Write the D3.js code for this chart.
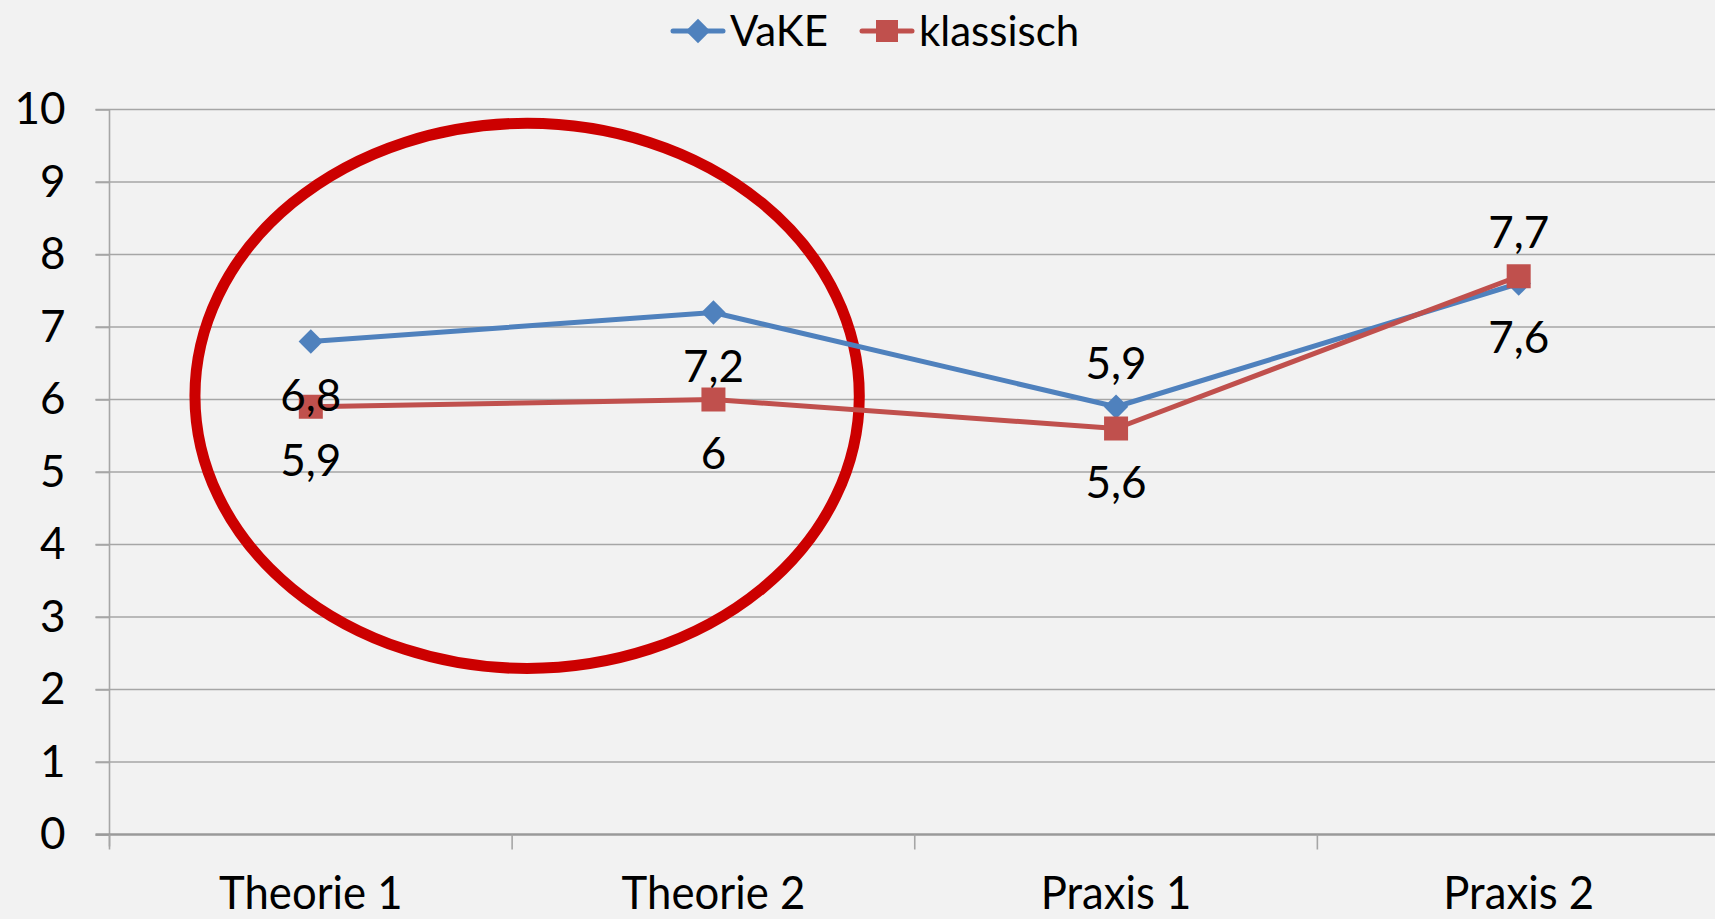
<!DOCTYPE html>
<html>
<head>
<meta charset="utf-8">
<script src="https://cdn.jsdelivr.net/npm/d3@7"></script>
<style>
  html, body { margin: 0; padding: 0; background: #f2f2f2; }
  svg { display: block; }
</style>
</head>
<body>
<script>
var categories = ["Theorie 1", "Theorie 2", "Praxis 1", "Praxis 2"];
var vakeValues = [6.8, 7.2, 5.9, 7.6];
var klassischValues = [5.9, 6, 5.6, 7.7];
var yTicks = [0, 1, 2, 3, 4, 5, 6, 7, 8, 9, 10];
var seriesNames = ["VaKE", "klassisch"];
// where Excel put each data label relative to its point
var vakeLabelSide = ["below", "below", "above", "below"];
var klassischLabelSide = ["below", "below", "below", "above"];

var width = 1715;
var height = 919;
var backgroundColor = "#f2f2f2";
var gridColor = "#a6a6a6";
var vakeColor = "#4f81bd";
var klassischColor = "#c0504d";
var fontFamily = "Lato, 'Open Sans', sans-serif";

var plotLeft = 109.5;
var plotRight = 1720;
var plotTop = 109.5;
var plotBottom = 834.5;

var deLocale = d3.formatLocale({ decimal: ",", thousands: ".", grouping: [3], currency: ["", " €"] });
var fmt = deLocale.format(".2~g");

var svg = d3.select("body").append("svg")
  .attr("width", width)
  .attr("height", height)
  .attr("viewBox", "0 0 " + width + " " + height);

svg.append("rect")
  .attr("width", width)
  .attr("height", height)
  .attr("fill", backgroundColor);

var x = d3.scalePoint()
  .domain(categories)
  .range([plotLeft, plotRight])
  .padding(0.5);
var step = x.step();

var y = d3.scaleLinear()
  .domain([0, 10])
  .range([plotBottom, plotTop]);

// horizontal gridlines
svg.append("g")
  .selectAll("line.grid")
  .data(yTicks.filter(function(d) { return d > 0; }))
  .enter().append("line")
    .classed("grid", true)
    .attr("x1", plotLeft - 14)
    .attr("x2", width)
    .attr("y1", function(d) { return y(d); })
    .attr("y2", function(d) { return y(d); })
    .attr("stroke", gridColor)
    .attr("stroke-width", 1.6);

// y axis
var yAxis = svg.append("g")
  .attr("transform", "translate(" + plotLeft + ",0)")
  .call(d3.axisLeft(y).tickValues(yTicks).tickSize(14).tickPadding(30));
yAxis.select(".domain").attr("stroke", gridColor).attr("stroke-width", 1.6)
  .attr("d", "M0," + plotTop + "V" + (plotBottom + 12));
yAxis.selectAll(".tick line").attr("stroke", gridColor).attr("stroke-width", 1.6);
yAxis.selectAll(".tick text")
  .attr("fill", "#000")
  .attr("font-family", fontFamily)
  .attr("font-size", 44);

// x axis
var xAxisG = svg.append("g").attr("transform", "translate(0," + plotBottom + ")");
xAxisG.append("line")
  .attr("x1", plotLeft - 14)
  .attr("x2", width)
  .attr("stroke", "#9a9a9a")
  .attr("stroke-width", 2.5);
xAxisG.selectAll("line.xtick")
  .data(categories)
  .enter().append("line")
    .classed("xtick", true)
    .attr("x1", function(d) { return x(d) - step / 2; })
    .attr("x2", function(d) { return x(d) - step / 2; })
    .attr("y1", 0)
    .attr("y2", 15)
    .attr("stroke", gridColor)
    .attr("stroke-width", 1.6);
xAxisG.selectAll("text.xlabel")
  .data(categories)
  .enter().append("text")
    .classed("xlabel", true)
    .attr("transform", function(d) { return "translate(" + x(d) + ",74) scale(0.95,1)"; })
    .attr("text-anchor", "middle")
    .attr("font-family", fontFamily)
    .attr("font-size", 46)
    .attr("fill", "#000")
    .text(function(d) { return d; });

// red ellipse around the theory block
svg.append("ellipse")
  .attr("cx", (x(categories[0]) + x(categories[1])) / 2 + 15)
  .attr("cy", y(6.05))
  .attr("rx", step * 0.825)
  .attr("ry", (y(0) - y(10)) * 0.376)
  .attr("fill", "none")
  .attr("stroke", "#cc0000")
  .attr("stroke-width", 11);

var line = d3.line()
  .x(function(d, i) { return x(categories[i]); })
  .y(function(d) { return y(d); });

var diamond = d3.symbol().type(d3.symbolDiamond2).size(380);

var drawSeries = function(values, color, marker, labelSide) {
  var g = svg.append("g");
  g.append("path")
    .datum(values)
    .attr("d", line)
    .attr("fill", "none")
    .attr("stroke", color)
    .attr("stroke-width", 5)
    .attr("stroke-linejoin", "round");
  var pts = g.selectAll("g.pt")
    .data(values)
    .enter().append("g")
      .classed("pt", true)
      .attr("transform", function(d, i) { return "translate(" + x(categories[i]) + "," + y(d) + ")"; });
  if (marker === "diamond") {
    pts.append("path").attr("d", diamond).attr("fill", color);
  } else {
    pts.append("rect").attr("x", -12).attr("y", -12).attr("width", 24).attr("height", 24).attr("fill", color);
  }
  return function() {
    svg.append("g").selectAll("text")
      .data(values)
      .enter().append("text")
        .attr("x", function(d, i) { return x(categories[i]); })
        .attr("y", function(d, i) {
          var center = labelSide[i] === "below" ? y(d) + 53 : y(d) - 44;
          return center + 16;
        })
        .attr("text-anchor", "middle")
        .attr("font-family", fontFamily)
        .attr("font-size", 44)
        .attr("fill", "#000")
        .text(function(d) { return fmt(d); });
  };
};

var vakeLabels = drawSeries(vakeValues, vakeColor, "diamond", vakeLabelSide);
var klassischLabels = drawSeries(klassischValues, klassischColor, "square", klassischLabelSide);
vakeLabels();
klassischLabels();

// legend
var legend = svg.append("g").attr("transform", "translate(0,31)");
var legendItems = [
  { name: seriesNames[0], color: vakeColor, marker: "diamond", x0: 673 },
  { name: seriesNames[1], color: klassischColor, marker: "square", x0: 862 }
];
legendItems.forEach(function(item) {
  legend.append("line")
    .attr("x1", item.x0).attr("x2", item.x0 + 50)
    .attr("stroke", item.color).attr("stroke-width", 5).attr("stroke-linecap", "round");
  if (item.marker === "diamond") {
    legend.append("path").attr("d", diamond)
      .attr("transform", "translate(" + (item.x0 + 25) + ",0)")
      .attr("fill", item.color);
  } else {
    legend.append("rect")
      .attr("x", item.x0 + 14).attr("y", -11).attr("width", 22).attr("height", 22)
      .attr("fill", item.color);
  }
  legend.append("text")
    .attr("x", item.x0 + 57)
    .attr("y", 15)
    .attr("font-family", fontFamily)
    .attr("font-size", 42)
    .attr("fill", "#000")
    .text(item.name);
});
</script>
</body>
</html>
